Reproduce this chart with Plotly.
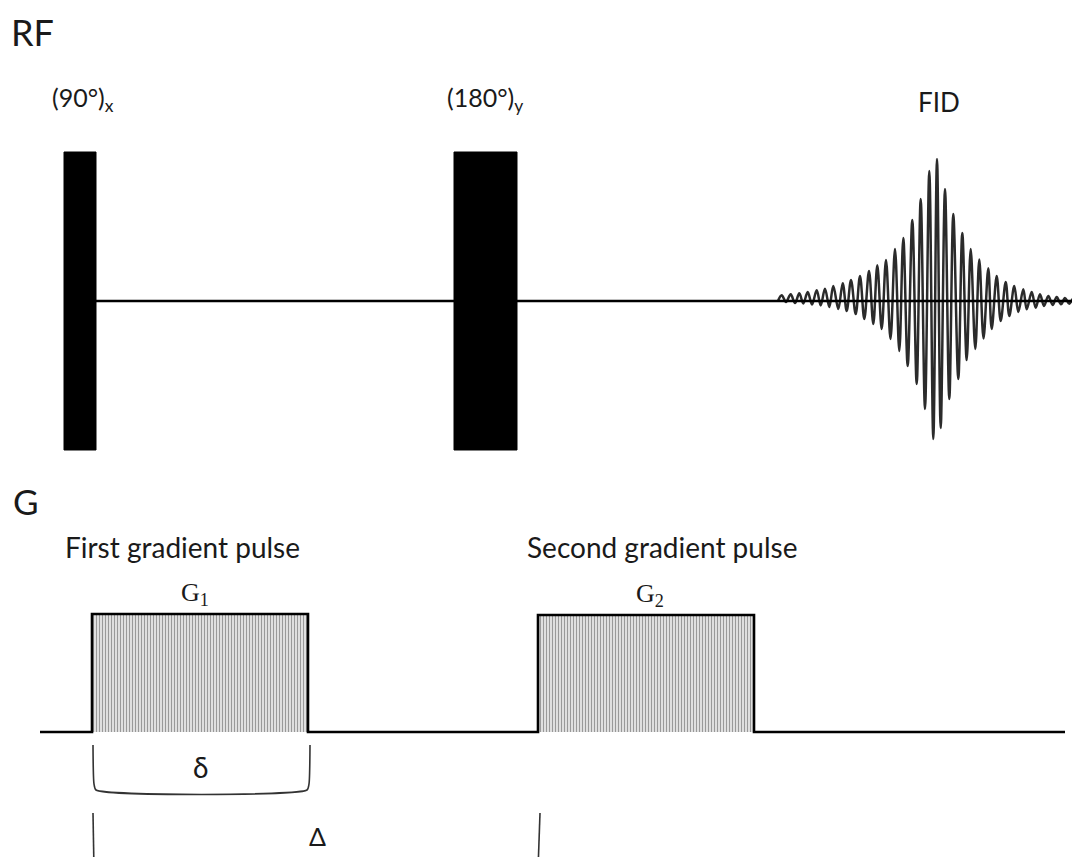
import plotly.graph_objects as go

# ---- RF channel ----
rf_names = ["(90°)<sub>x</sub>", "(180°)<sub>y</sub>"]
rf_start = [64, 454]
rf_end = [96, 517]
rf_top = 152
rf_bottom = 450
rf_base = 301

# FID extremes (x, amplitude above baseline)
fid_t = [778, 781.7, 786, 790.7, 795, 799.3, 803.3, 807.7, 812, 816.7, 820.7, 825, 829.3,
         833.3, 838.3, 842.7, 846.7, 851, 855.7, 860, 864.3, 869, 873.3, 877.3, 881.7,
         886, 890.5, 895, 899.3, 903.3, 907.7, 912.3, 916.7, 920.7, 925, 929.3, 933.3,
         937, 940.7, 945, 949.3, 953.3, 958.3, 962.3, 966.7, 970.7, 975.3, 979.3, 983.5,
         988.3, 991.7, 996.7, 1000.7, 1005.7, 1009.3, 1014.3, 1018.3, 1023.3, 1026.7,
         1031.7, 1035.7, 1040, 1044, 1048.3, 1052.7, 1056.7, 1061, 1065, 1069.3, 1073.3,
         1077.7, 1080]
fid_amp = [0, 5.7, -1, 6.7, -2, 7.7, -2.5, 9, -3.5, 10.7, -4.5, 12.3, -6,
           15, -8, 17.7, -10, 21, -13, 25, -18, 30, -23, 35.7, -28,
           41, -38, 52, -50, 63, -65, 81, -83, 102, -108, 130, -138,
           142, -127, 112, -98, 87, -78, 68, -59, 52, -48, 41.5, -37.5,
           32.7, -28, 25, -20, 19, -15, 15, -11, 11.7, -8.3,
           9, -6.7, 6.7, -5, 5, -4, 4, -3.3, 3, -2.7, 2.3,
           -2.3, 0]

# ---- Gradient channel ----
g_names = ["G<sub>1</sub>", "G<sub>2</sub>"]
g_titles = ["First gradient pulse", "Second gradient pulse"]
g_start = [92, 538]
g_end = [308, 754]
g_amp = [118, 117]
g_base = 732
g_line = [40, 1065]

fig = go.Figure()

# RF baseline, FID, pulses
fig.add_trace(go.Scatter(x=fid_t, y=[rf_base - a for a in fid_amp], mode="lines",
                         line=dict(color="#2b2b2b", width=2.5, shape="spline", smoothing=1.0)))
fig.add_trace(go.Scatter(x=[rf_end[0], 1080], y=[rf_base, rf_base], mode="lines",
                         line=dict(color="black", width=2.4)))
for s, e in zip(rf_start, rf_end):
    fig.add_trace(go.Scatter(x=[s, e, e, s, s], y=[rf_top, rf_top, rf_bottom, rf_bottom, rf_top],
                             mode="lines", fill="toself", fillcolor="black",
                             line=dict(color="black", width=1)))

# gradient lobes (hatched) and outline
for s, e, a in zip(g_start, g_end, g_amp):
    fig.add_trace(go.Scatter(x=[s, e, e, s, s], y=[g_base - a, g_base - a, g_base, g_base, g_base - a],
                             mode="lines", fill="toself", line=dict(width=0),
                             fillcolor="white",
                             fillpattern=dict(shape="|", size=3, solidity=0.55,
                                              fgcolor="#333333", bgcolor="white")))
gx = [g_line[0]]
gy = [g_base]
for s, e, a in zip(g_start, g_end, g_amp):
    gx += [s, s, e, e]
    gy += [g_base, g_base - a, g_base - a, g_base]
gx.append(g_line[1])
gy.append(g_base)
fig.add_trace(go.Scatter(x=gx, y=gy, mode="lines", line=dict(color="black", width=2.6)))

# brackets for delta and Delta
fig.add_trace(go.Scatter(x=[g_start[0] + 1, g_start[0] + 2, g_start[0] + 4, g_end[0] - 1, g_end[0] + 1, g_end[0] + 2],
                         y=[745, 784, 790, 790, 784, 745], mode="lines",
                         line=dict(color="#333", width=1.6, shape="spline", smoothing=0.6)))
fig.add_trace(go.Scatter(x=[g_start[0] + 1, g_start[0] + 2, None, g_start[1] + 2, g_start[1]],
                         y=[813, 870, None, 813, 870], mode="lines",
                         line=dict(color="#333", width=1.6)))

sans = "Lato"
ann = []
ann.append(dict(x=9, y=32, text="RF", font=dict(size=36), xanchor="left"))
ann.append(dict(x=11, y=501, text="G", font=dict(size=35), xanchor="left"))
for lx, name in zip([50, 445], rf_names):
    ann.append(dict(x=lx, y=99, text=name, font=dict(size=25), xanchor="left"))
ann.append(dict(x=939, y=102, text="FID", font=dict(size=26), xanchor="center"))
for s, e, a, name, title, tx, dx in zip(g_start, g_end, g_amp, g_names, g_titles, [63, 525], [-5, 4]):
    ann.append(dict(x=tx, y=547, text=title, font=dict(size=28), xanchor="left"))
    ann.append(dict(x=(s + e) / 2 + dx, y=g_base - a - 20, text=name,
                    font=dict(size=26, family="Liberation Serif"), xanchor="center"))
ann.append(dict(x=(g_start[0] + g_end[0]) / 2, y=767, text="δ", font=dict(size=28), xanchor="center"))
ann.append(dict(x=317, y=836, text="Δ", font=dict(size=25), xanchor="center"))
for a in ann:
    a.update(xref="x", yref="y", showarrow=False, yanchor="middle")
    a["font"] = dict(family=a["font"].get("family", sans), size=a["font"]["size"], color="#1a1a1a")

# page body has an 8px margin, so the axes are offset to keep marks in place
fig.update_layout(
    width=1080, height=857,
    margin=dict(l=0, r=0, t=0, b=0),
    paper_bgcolor="white", plot_bgcolor="white",
    showlegend=False,
    annotations=ann,
    xaxis=dict(range=[8, 1088], visible=False, fixedrange=True),
    yaxis=dict(range=[865, 8], visible=False, fixedrange=True),
)

fig.write_html("out.html")
